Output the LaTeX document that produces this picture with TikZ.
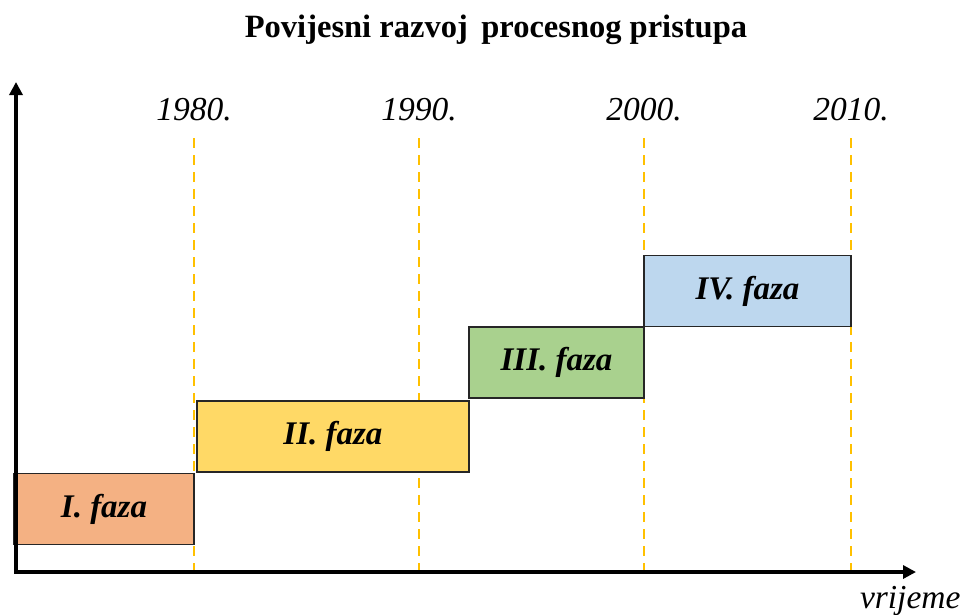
\documentclass[tikz,border=0pt]{standalone}
\usepackage{fontspec}
\setmainfont{Liberation Serif}
\usetikzlibrary{arrows.meta}
\definecolor{dashc}{HTML}{FFC000}
\definecolor{fI}{HTML}{F4B183}
\definecolor{fII}{HTML}{FFD966}
\definecolor{fIII}{HTML}{A9D18E}
\definecolor{fIV}{HTML}{BDD7EE}
\tikzset{
  axis/.style={line width=3.5pt,-{Triangle[length=13pt,width=13pt]}},
  yearline/.style={draw=dashc,line width=1.2pt,dash pattern=on 10pt off 7pt},
  phase/.style={draw=black!85,line width=1.3pt,minimum height=71pt,inner sep=0pt,font=\fontsize{33}{36}\selectfont\bfseries\itshape},
  year/.style={font=\fontsize{33.5}{36}\selectfont\itshape},
}
\begin{document}
\begin{tikzpicture}[x=1pt,y=-1pt]
\useasboundingbox (0,0) rectangle (965,614);
\node[font=\fontsize{32.5}{36}\selectfont\bfseries] (title) at (496,30) {Povijesni razvoj\, procesnog pristupa};
% year lines
\foreach \n/\x/\t in {a/194/1980.,b/419/1990.,c/644/2000.,d/851/2010.}{
  \coordinate (top\n) at (\x,138);
  \coordinate (bot\n) at (\x,572);
  \draw[yearline] (top\n) -- (bot\n);
  \node[year] (y\n) at (\x,110) {\t};
}
% phases
\node[phase,fill=fI,minimum width=180pt] (p1) at (104,509) {I. faza};
\node[phase,fill=fII,minimum width=272pt] (p2) at (333,436.5) {II. faza};
\node[phase,fill=fIII,minimum width=175pt] (p3) at (556.5,362.5) {III. faza};
\node[phase,fill=fIV,minimum width=207pt] (p4) at (747.5,291) {IV. faza};
% axes
\coordinate (o) at (16,572);
\coordinate (ytip) at (16,82);
\coordinate (xtip) at (916,572);
\draw[axis] ([yshift=1.75pt]o) -- (ytip);
\draw[axis] ([xshift=-1.75pt]o) -- (xtip);
\node[year,anchor=east] (vr) at (964,601) {vrijeme};
\end{tikzpicture}
\end{document}
